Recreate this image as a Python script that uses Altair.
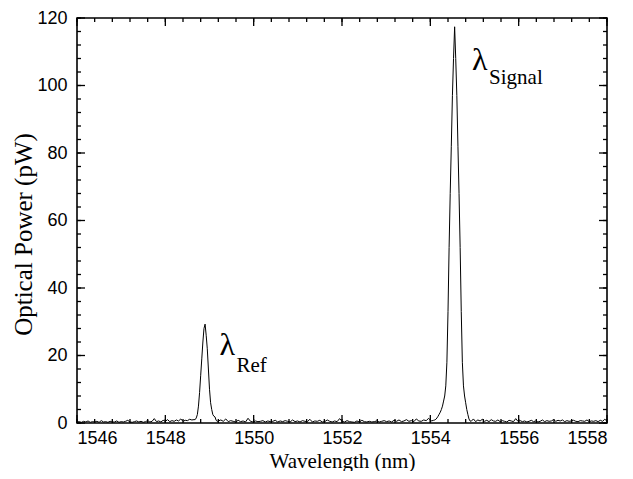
import altair as alt
import numpy as np
import pandas as pd

# ---- data ----
BASE1_RANGE = (1546.0, 1548.65)
BASE1 = [0.3,0.4,0.2,0.5,0.3,0.6,0.2,0.4,0.3,0.5,0.2,0.7,0.3,0.4,0.2,0.5,0.3,0.3,0.6,0.2,0.4,0.3,0.5,0.8,0.3,0.2,0.4,0.6,0.3,0.5,0.2,0.4,0.7,0.3,0.5,1.3,0.4,0.6,0.3,0.8,0.5,1.0,0.4,0.7,0.5,0.9,0.6,1.2,0.5,0.8,0.7,1.1,0.9,1.0]

REF_WL = [1548.675,1548.700,1548.725,1548.750,1548.775,1548.800,1548.825,1548.850,1548.875,1548.900,1548.925,1548.950,1548.975,1549.000,1549.025,1549.050,1549.075,1549.100,1549.125,1549.150,1549.175]
REF_P  = [1.0,1.5,2.5,5.0,9.0,14.0,19.0,24.0,28.0,29.3,26.0,22.0,16.0,10.0,6.0,4.0,2.5,2.0,1.8,0.8,0.5]

BASE2_RANGE = (1549.2, 1554.075)
BASE2 = [0.6,0.9,0.5,1.2,0.4,0.7,0.5,0.3,0.8,0.4,0.6,0.3,1.4,0.5,0.3,0.6,0.4,0.5,0.7,0.3,0.6,0.4,0.5,0.8,0.3,0.6,0.4,0.7,0.5,0.3,0.9,0.4,0.6,0.3,0.7,0.5,0.4,1.1,0.3,0.6,0.5,0.8,0.3,0.4,0.9,0.5,0.3,0.6,0.4,1.3,0.5,0.3,0.7,0.4,0.3,0.2,0.6,0.3,0.8,0.4,0.3,0.5,0.3,0.4,0.6,0.3,0.5,0.7,0.4,0.6,0.3,0.8,0.5,0.9,0.4,0.6,1.0,0.5,0.7,0.4,1.2,0.6,0.5,0.9,0.7,1.4,0.6,0.8]

SIG_WL = [1554.100,1554.125,1554.150,1554.175,1554.200,1554.225,1554.250,1554.275,1554.300,1554.325,1554.350,1554.375,1554.400,1554.425,1554.450,1554.475,1554.500,1554.525,1554.550,1554.575,1554.600,1554.625,1554.650,1554.675,1554.700,1554.725,1554.750,1554.775,1554.800,1554.825,1554.850,1554.875,1554.900]
SIG_P  = [0.9,1.1,1.5,2.0,2.6,3.2,4.0,5.0,6.5,8.0,11.0,18.0,33.0,52.0,68.0,82.0,97.0,108.0,117.4,108.0,97.0,82.0,68.0,52.0,33.0,18.0,11.0,8.0,6.0,4.0,2.5,1.2,0.6]

BASE3_RANGE = (1554.925, 1558.0)
BASE3 = [0.5,1.2,0.4,0.9,0.6,1.1,0.5,0.8,0.4,1.0,0.6,0.5,0.9,0.4,0.7,0.5,0.3,0.8,0.6,0.4,1.3,0.5,0.7,0.4,0.6,0.3,0.5,0.8,0.4,0.6,0.3,0.5,0.9,0.4,0.7,0.5,0.6,1.0,0.5,0.8,0.6,0.9,0.4,0.7,0.5,0.6,0.8,0.5,0.4,0.7,0.6,0.5,0.9,0.4,0.6,0.5,0.7,0.4,0.8,0.5,1.1,0.6]

X_TICKS = [1546, 1548, 1550, 1552, 1554, 1556, 1558]
Y_TICKS = [0, 20, 40, 60, 80, 100, 120]
X_MINOR_STEP = 0.4
Y_MINOR_STEP = 4

LABELS = [
    {"x": 1549.40, "y": 23.0, "t": "λ", "kind": "big"},
    {"x": 1549.61, "y": 15.0, "t": "Ref", "kind": "sub"},
    {"x": 1555.12, "y": 107.5, "t": "λ", "kind": "big"},
    {"x": 1555.33, "y": 100.5, "t": "Signal", "kind": "sub"},
]

# ---- assemble ----
wl = list(np.linspace(*BASE1_RANGE, len(BASE1))) + REF_WL + \
     list(np.linspace(*BASE2_RANGE, len(BASE2))) + SIG_WL + \
     list(np.linspace(*BASE3_RANGE, len(BASE3)))
pw = BASE1 + REF_P + BASE2 + SIG_P + BASE3
df = pd.DataFrame({"wl": wl, "p": pw})

W, H = 530, 405
xs = alt.Scale(domain=[1546, 1558], nice=False, zero=False)
ys = alt.Scale(domain=[0, 120], nice=False)

xminor = [round(v, 2) for v in np.arange(1546, 1558.001, X_MINOR_STEP)]
yminor = [round(v, 2) for v in np.arange(0, 120.001, Y_MINOR_STEP)]
xmaj = pd.DataFrame({"v": X_TICKS})
xmin = pd.DataFrame({"v": xminor})
ymaj = pd.DataFrame({"v": Y_TICKS})
ymin = pd.DataFrame({"v": yminor})

line = alt.Chart(df).mark_line(color="black", strokeWidth=1).encode(
    x=alt.X("wl:Q", scale=xs, title="Wavelength (nm)",
            axis=alt.Axis(values=X_TICKS, format="d", ticks=False, domain=False, grid=False,
                          labelFont="Liberation Sans", labelFontSize=18, labelColor="black",
                          labelPadding=6, titleFont="Liberation Serif", titleFontSize=21,
                          titleFontWeight="normal", titleColor="black", titlePadding=3)),
    y=alt.Y("p:Q", scale=ys, title="Optical Power (pW)",
            axis=alt.Axis(values=Y_TICKS, ticks=False, domain=False, grid=False,
                          labelFont="Liberation Sans", labelFontSize=18, labelColor="black",
                          labelPadding=10, titleFont="Liberation Serif", titleFontSize=25,
                          titleFontWeight="normal", titleColor="black", titlePadding=0,
                          titleY=216)),
)

def rule(d):
    return alt.Chart(d).mark_rule(color="black", strokeWidth=1.3)

xt_bot_major = rule(xmaj).encode(x=alt.X("v:Q", scale=xs), y=alt.value(H), y2=alt.value(H - 8))
xt_bot_minor = rule(xmin).encode(x=alt.X("v:Q", scale=xs), y=alt.value(H), y2=alt.value(H - 4))
xt_top_major = rule(xmaj).encode(x=alt.X("v:Q", scale=xs), y=alt.value(0), y2=alt.value(8))
xt_top_minor = rule(xmin).encode(x=alt.X("v:Q", scale=xs), y=alt.value(0), y2=alt.value(4))
yt_l_major = rule(ymaj).encode(y=alt.Y("v:Q", scale=ys), x=alt.value(0), x2=alt.value(8))
yt_l_minor = rule(ymin).encode(y=alt.Y("v:Q", scale=ys), x=alt.value(0), x2=alt.value(4))
yt_r_major = rule(ymaj).encode(y=alt.Y("v:Q", scale=ys), x=alt.value(W), x2=alt.value(W - 8))
yt_r_minor = rule(ymin).encode(y=alt.Y("v:Q", scale=ys), x=alt.value(W), x2=alt.value(W - 4))

lab = pd.DataFrame(LABELS)
big = alt.Chart(lab[lab.kind == "big"]).mark_text(
    font="Liberation Serif", fontSize=32, color="black", align="center", baseline="middle"
).encode(x=alt.X("x:Q", scale=xs), y=alt.Y("y:Q", scale=ys), text="t:N")
sub = alt.Chart(lab[lab.kind == "sub"]).mark_text(
    font="Liberation Serif", fontSize=21, color="black", align="left", baseline="alphabetic"
).encode(x=alt.X("x:Q", scale=xs), y=alt.Y("y:Q", scale=ys), text="t:N")

chart = alt.layer(
    line, xt_bot_major, xt_bot_minor, xt_top_major, xt_top_minor,
    yt_l_major, yt_l_minor, yt_r_major, yt_r_minor, big, sub
).properties(
    width=W, height=H,
    padding={"left": 69, "top": 10, "right": 18, "bottom": 48},
    autosize=alt.AutoSizeParams(type="none"),
    background="white",
).configure_view(stroke="black", strokeWidth=1.6)

chart.save("out.html", embed_options={"renderer": "svg", "actions": False})
